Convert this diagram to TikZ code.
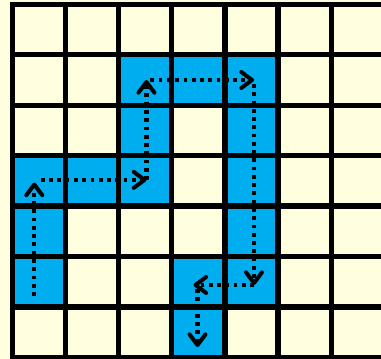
\documentclass[tikz,border=0pt]{standalone}
\usetikzlibrary{arrows.meta}
\definecolor{cream}{HTML}{FFFFE0}
\definecolor{cellblue}{HTML}{00AEEF}
\begin{document}
\begin{tikzpicture}[x=39.825pt,y=-37.8pt,
  gridline/.style={line width=3.9pt, black},
  bluecell/.style={fill=cellblue, draw=none},
  pathstep/.style={line width=3.1pt, dash pattern=on 2.8pt off 3.4pt,
    -{Straight Barb[length=8pt,width=12pt,line width=3pt,round]}}]
\useasboundingbox (-0.2354,-0.0893) rectangle (6.9397,7.0337);
\clip (-0.2354,-0.0893) rectangle (6.9397,7.0337);
\fill[cream] (-0.2354,-0.0893) rectangle (6.9397,7.0337);
% blue cells (column,row)
\foreach \c/\r in {2/1,3/1,4/1, 2/2,4/2, 0/3,1/3,2/3,4/3, 0/4,4/4, 0/5,3/5,4/5, 3/6}
  \fill[bluecell] (\c,\r) rectangle (\c+1,\r+1);
% grid
\foreach \i in {0,...,7}
  \draw[gridline] (\i,-0.05) -- (\i,7.05);
\foreach \j in {0,...,7}
  \draw[gridline] (-0.05,\j) -- (7.2,\j);
% path coordinates
\coordinate (p0) at (0.41,5.78);
\coordinate (p1) at (0.41,3.48);
\coordinate (p2) at (2.523,3.48);
\coordinate (p3) at (2.523,1.498);
\coordinate (p4) at (4.548,1.498);
\coordinate (p5) at (4.548,5.565);
\coordinate (p6) at (3.484,5.565);
\coordinate (p7) at (3.484,6.796);
\draw[pathstep] (p0) -- ([yshift=-2pt]p1);
\draw[pathstep, shorten <=5pt] (p1) -- (p2);
\draw[pathstep] (p2) -- (p3);
\draw[pathstep, shorten <=3pt] (p3) -- (p4);
\draw[pathstep, shorten <=3pt] (p4) -- (p5);
\draw[pathstep] (p5) -- ([xshift=-3pt]p6);
\draw[pathstep, shorten <=3pt] (p6) -- (p7);
\end{tikzpicture}
\end{document}
